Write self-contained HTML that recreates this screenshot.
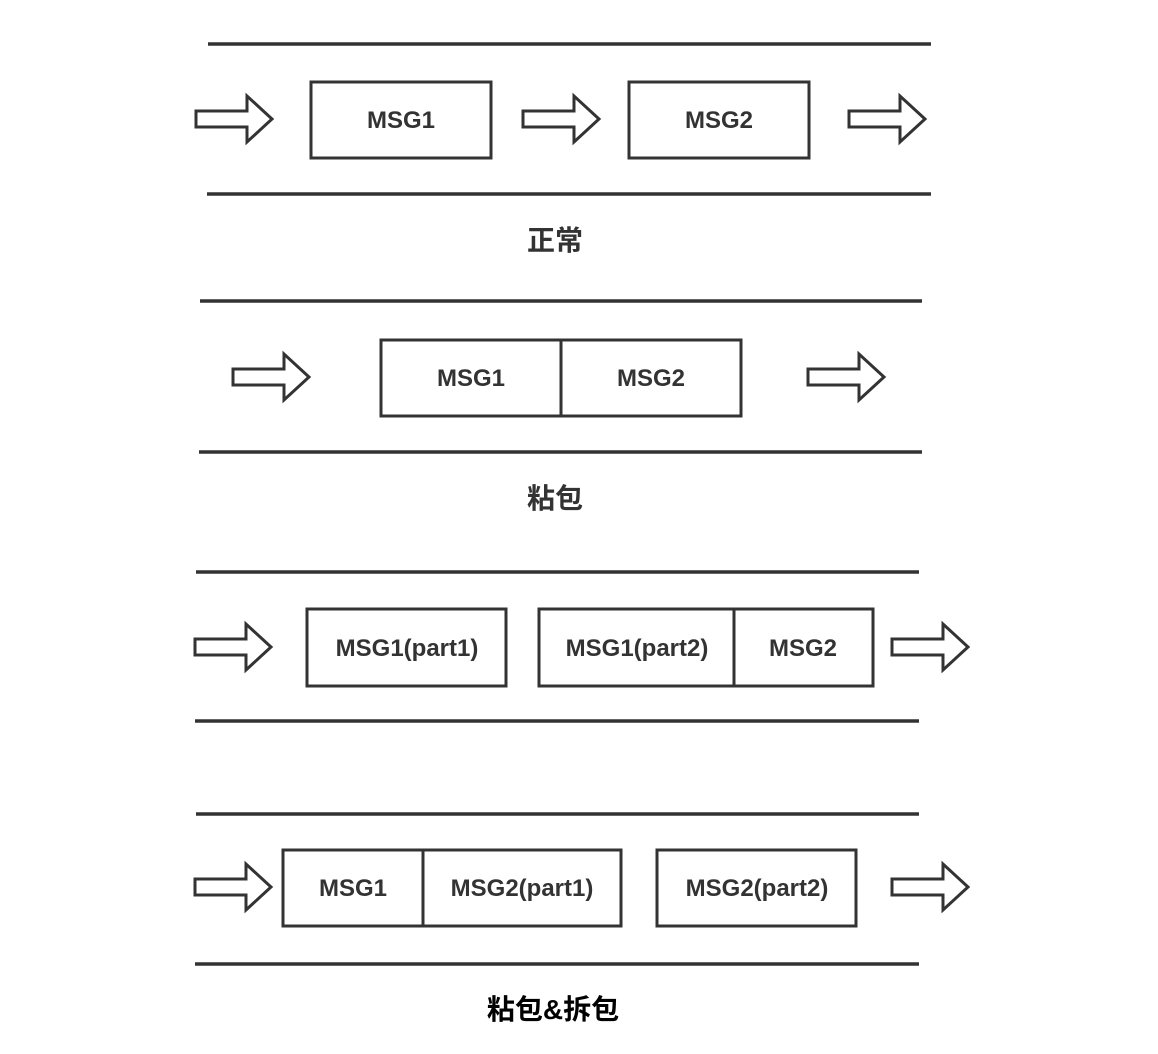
<!DOCTYPE html>
<html><head><meta charset="utf-8"><style>
html,body{margin:0;padding:0;background:#fff;}
svg{display:block;}
.t{font-family:"Liberation Sans",sans-serif;font-weight:bold;font-size:24px;fill:#333;}
.c{font-family:"Liberation Sans","Noto Sans CJK SC",sans-serif;font-weight:bold;font-size:28px;}
</style></head><body>
<svg width="1158" height="1054" viewBox="0 0 1158 1054" xmlns="http://www.w3.org/2000/svg">
<defs>
<path id="ar" d="M0,-8 H51 V-23 L76,0 L51,23 V8 H0 Z" fill="#fff" stroke="#333" stroke-width="3" stroke-linejoin="miter"/>
</defs>
<g stroke="#333" stroke-width="3.5" fill="none">
<line x1="208" y1="44" x2="931" y2="44"/><line x1="207" y1="194" x2="931" y2="194"/>
<line x1="200" y1="301" x2="922" y2="301"/><line x1="199" y1="452" x2="922" y2="452"/>
<line x1="196" y1="572" x2="919" y2="572"/><line x1="195" y1="721" x2="919" y2="721"/>
<line x1="196" y1="814" x2="919" y2="814"/><line x1="195" y1="964" x2="919" y2="964"/>
</g>
<g stroke="#333" stroke-width="3" fill="#fff">
<rect x="311" y="82" width="180" height="76"/>
<rect x="629" y="82" width="180" height="76"/>
<rect x="381" y="340" width="360" height="76"/><line x1="561" y1="340" x2="561" y2="416"/>
<rect x="307" y="609" width="199" height="77"/>
<rect x="539" y="609" width="334" height="77"/><line x1="734" y1="609" x2="734" y2="686"/>
<rect x="283" y="850" width="338" height="76"/><line x1="423" y1="850" x2="423" y2="926"/>
<rect x="657" y="850" width="199" height="76"/>
</g>
<use href="#ar" x="196" y="119"/><use href="#ar" x="523" y="119"/><use href="#ar" x="849" y="119"/>
<use href="#ar" x="233" y="377"/><use href="#ar" x="808" y="377"/>
<use href="#ar" x="195" y="647"/><use href="#ar" x="892" y="647"/>
<use href="#ar" x="195" y="887"/><use href="#ar" x="892" y="887"/>
<g class="t" text-anchor="middle">
<text x="401" y="128">MSG1</text><text x="719" y="128">MSG2</text>
<text x="471" y="386">MSG1</text><text x="651" y="386">MSG2</text>
<text x="407" y="656">MSG1(part1)</text><text x="637" y="656">MSG1(part2)</text><text x="803" y="656">MSG2</text>
<text x="353" y="896">MSG1</text><text x="522" y="896">MSG2(part1)</text><text x="757" y="896">MSG2(part2)</text>
</g>
<g class="c" text-anchor="middle">
<text x="555" y="250" fill="#333">正常</text>
<text x="555" y="508" fill="#333">粘包</text>
<text x="553" y="1019" fill="#000">粘包&amp;拆包</text>
</g>
</svg>
</body></html>
